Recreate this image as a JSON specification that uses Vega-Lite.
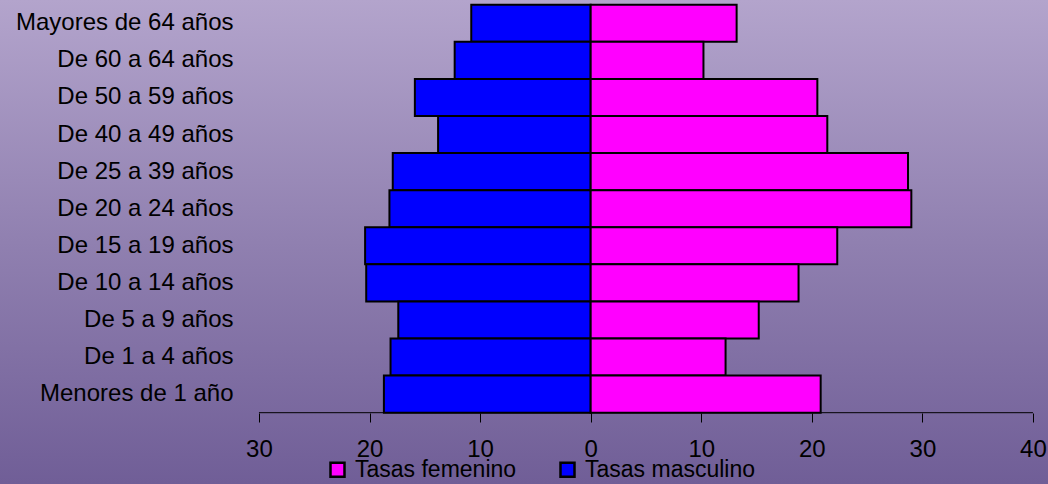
{
  "$schema": "https://vega.github.io/schema/vega-lite/v6.json",
  "width": 1048,
  "height": 484,
  "autosize": "none",
  "padding": 0,
  "background": "#9282b0",
  "config": {"view": {"stroke": null}, "font": "Liberation Sans"},
  "datasets": {
    "rates": [
      {"grupo": "Mayores de 64 años", "sexo": "Tasas masculino", "valor": -10.8},
      {"grupo": "De 60 a 64 años", "sexo": "Tasas masculino", "valor": -12.3},
      {"grupo": "De 50 a 59 años", "sexo": "Tasas masculino", "valor": -15.9},
      {"grupo": "De 40 a 49 años", "sexo": "Tasas masculino", "valor": -13.8},
      {"grupo": "De 25 a 39 años", "sexo": "Tasas masculino", "valor": -17.9},
      {"grupo": "De 20 a 24 años", "sexo": "Tasas masculino", "valor": -18.2},
      {"grupo": "De 15 a 19 años", "sexo": "Tasas masculino", "valor": -20.4},
      {"grupo": "De 10 a 14 años", "sexo": "Tasas masculino", "valor": -20.3},
      {"grupo": "De 5 a 9 años", "sexo": "Tasas masculino", "valor": -17.4},
      {"grupo": "De 1 a 4 años", "sexo": "Tasas masculino", "valor": -18.1},
      {"grupo": "Menores de 1 año", "sexo": "Tasas masculino", "valor": -18.7},
      {"grupo": "Mayores de 64 años", "sexo": "Tasas femenino", "valor": 13.2},
      {"grupo": "De 60 a 64 años", "sexo": "Tasas femenino", "valor": 10.2},
      {"grupo": "De 50 a 59 años", "sexo": "Tasas femenino", "valor": 20.5},
      {"grupo": "De 40 a 49 años", "sexo": "Tasas femenino", "valor": 21.4},
      {"grupo": "De 25 a 39 años", "sexo": "Tasas femenino", "valor": 28.7},
      {"grupo": "De 20 a 24 años", "sexo": "Tasas femenino", "valor": 29.0},
      {"grupo": "De 15 a 19 años", "sexo": "Tasas femenino", "valor": 22.3},
      {"grupo": "De 10 a 14 años", "sexo": "Tasas femenino", "valor": 18.8},
      {"grupo": "De 5 a 9 años", "sexo": "Tasas femenino", "valor": 15.2},
      {"grupo": "De 1 a 4 años", "sexo": "Tasas femenino", "valor": 12.2},
      {"grupo": "Menores de 1 año", "sexo": "Tasas femenino", "valor": 20.8}
    ],
    "axisline": [{"desde": -30, "hasta": 40, "grupo": "Menores de 1 año"}]
  },
  "layer": [
    {
      "data": {"values": [{}]},
      "mark": {
        "type": "rect",
        "fill": {
          "gradient": "linear",
          "x1": 0, "y1": 0, "x2": 0, "y2": 1,
          "stops": [
            {"offset": 0, "color": "#b3a4cc"},
            {"offset": 0.5, "color": "#9080b0"},
            {"offset": 1, "color": "#705e97"}
          ]
        }
      },
      "encoding": {}
    },
    {
      "data": {"name": "rates"},
      "mark": {"type": "bar", "stroke": "black", "strokeWidth": 2},
      "encoding": {
        "y": {
          "field": "grupo",
          "type": "nominal",
          "sort": ["Mayores de 64 años", "De 60 a 64 años", "De 50 a 59 años", "De 40 a 49 años", "De 25 a 39 años", "De 20 a 24 años", "De 15 a 19 años", "De 10 a 14 años", "De 5 a 9 años", "De 1 a 4 años", "Menores de 1 año"],
          "scale": {"range": [4.7, 412.7], "paddingInner": 0, "paddingOuter": 0},
          "axis": {
            "title": null,
            "orient": "left",
            "offset": -259,
            "zindex": 2,
            "domain": false,
            "ticks": false,
            "grid": false,
            "labelPadding": 26,
            "labelFontSize": 24,
            "labelColor": "black",
            "labelFont": "Liberation Sans",
            "labelLimit": 400
          }
        },
        "x": {
          "field": "valor",
          "type": "quantitative",
          "scale": {"domain": [-53.42, 41.36], "nice": false, "zero": false},
          "axis": {
            "title": null,
            "orient": "bottom",
            "offset": -71,
            "zindex": 2,
            "values": [-30, -20, -10, 0, 10, 20, 30, 40],
            "labelExpr": "abs(datum.value)",
            "domain": false,
            "grid": false,
            "tickSize": 9,
            "tickColor": "black",
            "tickWidth": 1,
            "labelPadding": 15,
            "labelFontSize": 24,
            "labelColor": "black",
            "labelFont": "Liberation Sans"
          }
        },
        "color": {
          "field": "sexo",
          "type": "nominal",
          "scale": {"domain": ["Tasas femenino", "Tasas masculino"], "range": ["#ff00ff", "#0000ff"]},
          "legend": {
            "title": null,
            "orient": "none",
            "direction": "horizontal",
            "legendX": 326,
            "legendY": 458,
            "zindex": 2,
            "symbolType": "square",
            "symbolSize": 196,
            "symbolStrokeColor": "black",
            "symbolStrokeWidth": 2.5,
            "labelFontSize": 23,
            "labelColor": "black",
            "labelFont": "Liberation Sans",
            "labelLimit": 300,
            "labelOffset": 6,
            "columnPadding": 38
          }
        }
      }
    },
    {
      "data": {"name": "axisline"},
      "mark": {"type": "rule", "color": "black", "strokeWidth": 1},
      "encoding": {
        "x": {"field": "desde", "type": "quantitative"},
        "x2": {"field": "hasta"},
        "y": {
          "field": "grupo",
          "type": "nominal",
          "bandPosition": 1,
          "sort": ["Mayores de 64 años", "De 60 a 64 años", "De 50 a 59 años", "De 40 a 49 años", "De 25 a 39 años", "De 20 a 24 años", "De 15 a 19 años", "De 10 a 14 años", "De 5 a 9 años", "De 1 a 4 años", "Menores de 1 año"]
        }
      }
    }
  ]
}
